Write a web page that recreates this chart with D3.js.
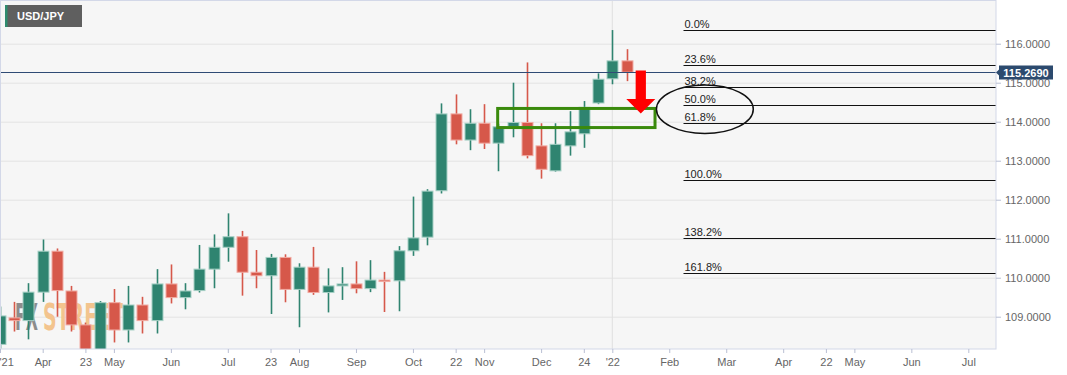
<!DOCTYPE html>
<html>
<head>
<meta charset="utf-8">
<script src="https://cdn.jsdelivr.net/npm/d3@7"></script>
<style>
body { margin: 0; background: #fff; }
svg { display: block; font-family: "Liberation Sans", Arial, sans-serif; }
</style>
</head>
<body>
<script>
// weekly USD/JPY candles, first one is 3 weeks before the "Apr" tick
var firstWeek = -3;
var openP  = [108.29, 108.97, 108.90, 109.63, 110.68, 109.66, 108.79, 107.95, 109.36, 108.66,
              109.30, 108.90, 109.84, 109.49, 109.67, 110.22, 110.78, 111.05, 110.14, 110.05,
              110.52, 109.70, 110.27, 109.62, 109.79, 109.84, 109.72, 109.94, 109.92, 110.69,
              111.04, 112.23, 114.20, 113.53, 113.96, 113.45, 113.86, 113.98, 113.38, 112.74,
              113.38, 113.69, 114.48, 115.10, 115.56];
var highP  = [109.26, 109.38, 109.86, 110.98, 110.75, 109.79, 108.85, 109.40, 109.71, 109.79,
              109.51, 110.22, 110.34, 109.86, 110.84, 111.11, 111.65, 111.20, 110.71, 110.61,
              110.60, 110.37, 110.79, 110.24, 110.27, 110.42, 110.45, 110.15, 110.81, 112.08,
              112.27, 114.47, 114.70, 114.32, 114.45, 113.95, 115.00, 115.52, 113.96, 113.96,
              114.27, 114.53, 115.24, 116.35, 115.86];
var lowP   = [108.18, 108.62, 108.42, 109.38, 109.00, 108.62, 107.60, 107.80, 108.34, 108.34,
              108.57, 108.57, 109.34, 109.19, 109.62, 109.73, 110.41, 109.54, 109.73, 109.07,
              109.37, 108.73, 109.56, 109.11, 109.43, 109.60, 109.63, 109.12, 109.14, 110.56,
              110.83, 112.16, 113.42, 113.27, 113.30, 112.73, 113.60, 113.06, 112.54, 112.72,
              113.13, 113.33, 114.45, 114.96, 115.04];
var closeP = [109.02, 108.90, 109.63, 110.68, 109.67, 108.79, 107.95, 109.36, 108.66, 109.30,
              108.90, 109.84, 109.49, 109.66, 110.22, 110.78, 111.05, 110.14, 110.05, 110.52,
              109.70, 110.27, 109.62, 109.79, 109.84, 109.72, 109.94, 109.93, 110.69, 111.02,
              112.22, 114.20, 113.53, 113.96, 113.45, 113.87, 113.98, 113.13, 112.78, 113.42,
              113.74, 114.37, 115.09, 115.56, 115.27];

var lastPrice = 115.269;

var tickWeeks  = [-3, 0, 3, 5, 9, 13, 16, 18, 22, 26, 29, 31, 35, 38, 40, 44, 48, 52, 55, 57, 61, 65];
var tickLabels = ["'21", "Apr", "23", "May", "Jun", "Jul", "23", "Aug", "Sep", "Oct", "22", "Nov",
                  "Dec", "24", "'22", "Feb", "Mar", "Apr", "22", "May", "Jun", "Jul"];
var priceTicks = [109, 110, 111, 112, 113, 114, 115, 116];

// fibonacci retracement drawn from the swing high down to the swing low
var fibHigh = 116.35;
var fibLow = 112.50;
var fibRatios = [0, 0.236, 0.382, 0.5, 0.618, 1, 1.382, 1.618];
var fibStartWeek = 45;

// annotations (week index / price)
var zoneBox = { w0: 31.95, w1: 43.0, top: 114.34, bottom: 113.85 };
var circle = { week: 46.5, price: 114.32, rw: 3.4, rp: 0.62 };
var arrow = { week: 42.0, top: 115.31, neck: 114.58, tip: 114.21, shaft: 0.36, head: 1.02 };

var data = openP.map(function(o, i) {
    return { week: firstWeek + i, open: o, high: highP[i], low: lowP[i], close: closeP[i] };
});

function buildIt() {
    var w = 1067;
    var h = 375;
    var plotW = 996;
    var plotH = 349;
    var bodyW = 11;

    var svg = d3.select("body")
        .append("svg")
        .attr("width", w)
        .attr("height", h);

    var xScale = d3.scaleLinear()
        .domain([0, 65])
        .range([42.7, 968.3]);

    var yScale = d3.scaleLinear()
        .domain([108.172, 117.095])
        .range([plotH, 1]);

    svg.append("defs").append("clipPath")
        .attr("id", "plotclip")
        .append("rect")
        .attr("x", 0).attr("y", 0)
        .attr("width", plotW).attr("height", plotH);

    svg.append("rect")
        .attr("x", 0).attr("y", 0)
        .attr("width", plotW).attr("height", plotH)
        .attr("fill", "#f6f6f6");

    var plot = svg.append("g").attr("clip-path", "url(#plotclip)");

    plot.selectAll("line.grid")
        .data(priceTicks)
        .enter()
        .append("line")
        .attr("class", "grid")
        .attr("x1", 0).attr("x2", plotW)
        .attr("y1", function(d) { return yScale(d) + 0.5; })
        .attr("y2", function(d) { return yScale(d) + 0.5; })
        .attr("stroke", "#e3e3e3");

    // year boundary
    plot.append("line")
        .attr("x1", xScale(40)).attr("x2", xScale(40))
        .attr("y1", 0).attr("y2", plotH)
        .attr("stroke", "#e0e0e0");

    // watermark, two pieces so the colours can differ; squeezed to width
    function watermark(str, x, width, fill) {
        var t = plot.append("text")
            .attr("font-family", "'Liberation Sans Narrow', 'DejaVu Sans Condensed', sans-serif")
            .attr("font-weight", "bold")
            .attr("font-size", "37px")
            .attr("fill", fill)
            .text(str);
        var natural = t.node().getComputedTextLength();
        t.attr("transform", "translate(" + x + ",330) scale(" + (width / natural) + ",1)");
    }
    watermark("FX", 15, 23, "#8c8c8c");
    watermark("STREET", 43, 80, "#f3c48e");

    // candles
    var candle = plot.selectAll("g.candle")
        .data(data)
        .enter()
        .append("g")
        .attr("class", "candle");

    function up(d) { return d.close >= d.open; }

    candle.append("line")
        .attr("x1", function(d) { return Math.round(xScale(d.week)) + 0.5; })
        .attr("x2", function(d) { return Math.round(xScale(d.week)) + 0.5; })
        .attr("y1", function(d) { return yScale(d.high); })
        .attr("y2", function(d) { return yScale(d.low); })
        .attr("stroke", function(d) { return up(d) ? "#2f8470" : "#d6584a"; })
        .attr("stroke-width", 1.6);

    candle.append("rect")
        .attr("x", function(d) { return Math.round(xScale(d.week)) + 0.5 - bodyW / 2; })
        .attr("y", function(d) { return yScale(Math.max(d.open, d.close)); })
        .attr("width", bodyW)
        .attr("height", function(d) {
            return Math.max(1.5, Math.abs(yScale(d.open) - yScale(d.close)));
        })
        .attr("fill", function(d) { return up(d) ? "#2f8470" : "#d6584a"; })
        .attr("stroke", function(d) { return up(d) ? "#a5cfc4" : "#f1aaa2"; })
        .attr("stroke-width", 1);

    // fib levels
    var fib = plot.selectAll("g.fib")
        .data(fibRatios)
        .enter()
        .append("g")
        .attr("class", "fib");

    function fibY(r) { return Math.round(yScale(fibHigh - r * (fibHigh - fibLow))) + 0.5; }

    fib.append("line")
        .attr("x1", xScale(fibStartWeek)).attr("x2", plotW)
        .attr("y1", fibY).attr("y2", fibY)
        .attr("stroke", "#111")
        .attr("stroke-width", 1.1);

    fib.append("text")
        .attr("x", xScale(fibStartWeek) + 1)
        .attr("y", function(r) { return fibY(r) - 3; })
        .attr("font-size", "11px")
        .attr("fill", "#222")
        .text(function(r) { return (r * 100).toFixed(1) + "%"; });

    // last price line
    plot.append("line")
        .attr("x1", 0).attr("x2", plotW)
        .attr("y1", Math.round(yScale(lastPrice)) + 0.5)
        .attr("y2", Math.round(yScale(lastPrice)) + 0.5)
        .attr("stroke", "#2f4b75")
        .attr("stroke-width", 1);

    // green zone
    plot.append("rect")
        .attr("x", xScale(zoneBox.w0))
        .attr("y", yScale(zoneBox.top))
        .attr("width", xScale(zoneBox.w1) - xScale(zoneBox.w0))
        .attr("height", yScale(zoneBox.bottom) - yScale(zoneBox.top))
        .attr("fill", "none")
        .attr("stroke", "#3a8a0c")
        .attr("stroke-width", 3);

    plot.append("ellipse")
        .attr("cx", xScale(circle.week))
        .attr("cy", yScale(circle.price))
        .attr("rx", xScale(circle.week + circle.rw) - xScale(circle.week))
        .attr("ry", yScale(circle.price - circle.rp) - yScale(circle.price))
        .attr("fill", "none")
        .attr("stroke", "#111")
        .attr("stroke-width", 1.5);

    var ax = arrow.week;
    var arrowPts = [
        [ax - arrow.shaft, arrow.top], [ax + arrow.shaft, arrow.top],
        [ax + arrow.shaft, arrow.neck], [ax + arrow.head, arrow.neck],
        [ax, arrow.tip], [ax - arrow.head, arrow.neck],
        [ax - arrow.shaft, arrow.neck]
    ];
    plot.append("polygon")
        .attr("points", arrowPts.map(function(p) {
            return xScale(p[0]) + "," + yScale(p[1]);
        }).join(" "))
        .attr("fill", "#ff0000");

    // borders
    svg.append("rect")
        .attr("x", 0.5).attr("y", 0.5)
        .attr("width", plotW - 0.5).attr("height", plotH - 0.5)
        .attr("fill", "none")
        .attr("stroke", "#d3d8e8");

    var xAxis = d3.axisBottom()
        .scale(xScale)
        .tickValues(tickWeeks)
        .tickFormat(function(d, i) { return tickLabels[i]; })
        .tickSize(4)
        .tickPadding(5);

    var gx = svg.append("g")
        .attr("transform", "translate(0," + plotH + ")")
        .call(xAxis);
    gx.select(".domain").remove();
    gx.selectAll(".tick line").attr("stroke", "#b9bfd3");
    gx.selectAll("text")
        .attr("font-size", "11px")
        .attr("font-family", "'Liberation Sans', Arial, sans-serif")
        .attr("fill", "#666");
    gx.selectAll(".tick").filter(function(d) { return d === tickWeeks[0]; })
        .select("text").attr("text-anchor", "start").attr("x", -1);

    var yAxis = d3.axisRight()
        .scale(yScale)
        .tickValues(priceTicks)
        .tickFormat(function(d) { return d.toFixed(4); })
        .tickSize(5)
        .tickPadding(4);

    var gy = svg.append("g")
        .attr("transform", "translate(" + plotW + ",0)")
        .call(yAxis);
    gy.select(".domain").remove();
    gy.selectAll(".tick line").attr("stroke", "#b9bfd3");
    gy.selectAll("text")
        .attr("font-size", "11px")
        .attr("font-family", "'Liberation Sans', Arial, sans-serif")
        .attr("fill", "#666");

    // last price tag
    var py = Math.round(yScale(lastPrice)) + 0.5;
    var tag = svg.append("g");
    tag.append("path")
        .attr("d", "M" + plotW + "," + py + "L" + (plotW + 4) + "," + (py - 4) +
              "L" + (plotW + 4) + "," + (py + 4) + "Z")
        .attr("fill", "#2c4a6e");
    tag.append("rect")
        .attr("x", plotW + 3).attr("y", py - 7)
        .attr("width", 54).attr("height", 14)
        .attr("fill", "#2c4a6e");
    tag.append("text")
        .attr("x", plotW + 30).attr("y", py + 4)
        .attr("text-anchor", "middle")
        .attr("font-size", "11px")
        .attr("font-weight", "bold")
        .attr("fill", "#fff")
        .text(lastPrice.toFixed(4));

    // symbol badge
    svg.append("rect")
        .attr("x", 5).attr("y", 5)
        .attr("width", 77).attr("height", 22)
        .attr("fill", "#5f5f5f");
    svg.append("rect")
        .attr("x", 5).attr("y", 5)
        .attr("width", 2.5).attr("height", 22)
        .attr("fill", "#2e8b6e");
    svg.append("text")
        .attr("x", 17).attr("y", 20)
        .attr("font-size", "11px")
        .attr("font-weight", "bold")
        .attr("fill", "#fff")
        .text("USD/JPY");
}

buildIt();
</script>
</body>
</html>
